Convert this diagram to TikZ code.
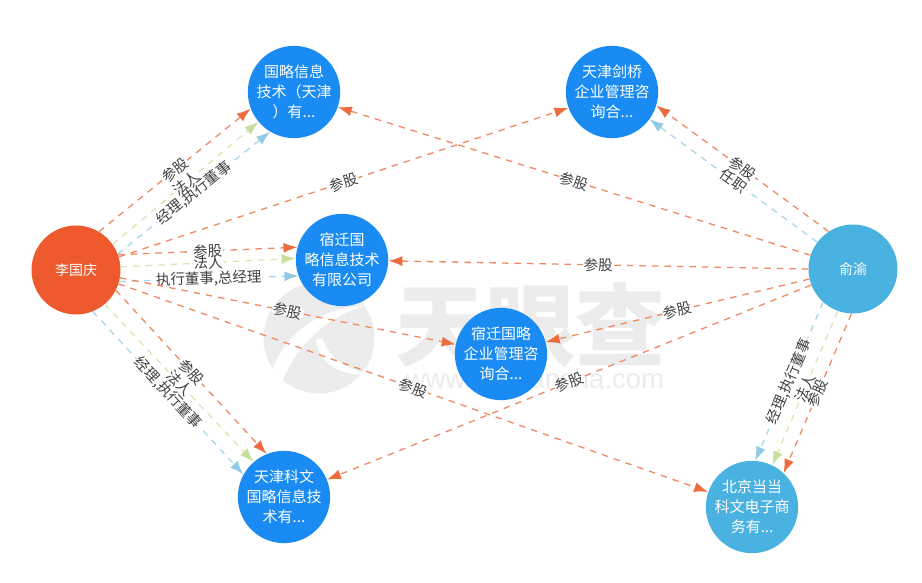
\documentclass[tikz,border=0pt]{standalone}
\usepackage{fontspec}
\usepackage{xcolor}
\usetikzlibrary{arrows.meta}
\setmainfont{Noto Sans CJK SC}
\newfontfamily\wwwfont{Liberation Sans}
\definecolor{lineOrange}{HTML}{EE8A62}
\definecolor{lineGreen}{HTML}{D6E9B4}
\definecolor{lineBlue}{HTML}{A9D7EA}
\definecolor{tipOrange}{HTML}{EC6C3E}
\definecolor{tipGreen}{HTML}{C6E09C}
\definecolor{tipBlue}{HTML}{90CBE6}
\definecolor{nodeRed}{HTML}{EE5A2E}
\definecolor{nodeBlue}{HTML}{1A8BF2}
\definecolor{nodeSky}{HTML}{4AB2E0}
\definecolor{markGray}{HTML}{ECECEC}
\tikzset{
  entity/.style={circle,minimum size=89pt,inner sep=0pt,align=center,text=white,
    font=\fontsize{15}{20}\selectfont},
  link/.style={dashed,dash pattern=on 6.5pt off 6pt,line width=1.3pt},
  orangelink/.style={link,draw=lineOrange,-{Latex[length=14pt,width=10pt,color=tipOrange]}},
  greenlink/.style={link,draw=lineGreen,-{Latex[length=14pt,width=10pt,color=tipGreen]}},
  bluelink/.style={link,draw=lineBlue,-{Latex[length=14pt,width=10pt,color=tipBlue]}},
  role/.style={midway,sloped,fill=white,inner xsep=1pt,inner ysep=-2.5pt,text=black!75,
    font=\fontsize{14.5}{15}\selectfont},
}
\begin{document}
\begin{tikzpicture}[x=1pt,y=-1pt]
\useasboundingbox (0,0) rectangle (922,583);
% watermark
\fill[markGray] (319,338) circle (55.5);
\fill[white] (272,370) .. controls (285,335) and (318,308) .. (364,306)
  .. controls (325,318) and (297,345) .. (282,382) -- cycle;
\fill[white] (316,340) .. controls (318,362) and (340,378) .. (372,374)
  .. controls (345,370) and (330,358) .. (322,338) -- cycle;
\node[text=markGray,font=\fontsize{90}{90}\bfseries] (markname) at (530,325) {天眼查};
\node[text=markGray,font=\fontsize{27.5}{27.5}\wwwfont] (markurl) at (535,381) {www.tianyancha.com};
% nodes
\node[entity,fill=nodeRed,font=\fontsize{14}{20}\selectfont] (liguoqing) at (76,270) {李国庆};
\node[entity,fill=nodeSky,font=\fontsize{14}{20}\selectfont] (yuyu) at (853,269) {俞渝};
\node[entity,fill=nodeBlue] (guolue) at (294,92) {国略信息\\技术（天津\\）有...};
\node[entity,fill=nodeBlue] (jianqiao) at (612,92) {天津剑桥\\企业管理咨\\询合...};
\node[entity,fill=nodeBlue] (suqiantech) at (342,260) {宿迁国\\略信息技术\\有限公司};
\node[entity,fill=nodeBlue] (suqianqiye) at (501,354) {宿迁国略\\企业管理咨\\询合...};
\node[entity,fill=nodeBlue] (kewen) at (284,497) {天津科文\\国略信息技\\术有...};
\node[entity,fill=nodeSky] (dangdang) at (752,507) {北京当当\\科文电子商\\务有...};
% lines from the left person
\draw[orangelink] (liguoqing.59) -- (guolue.201) node[role]{参股};
\draw[greenlink] (liguoqing.35) -- (guolue.220) node[role]{法人};
\draw[bluelink] (liguoqing.21) -- (guolue.239) node[role]{经理,执行董事};
\draw[orangelink] (liguoqing.17) -- (jianqiao.200) node[role]{参股};
\draw[orangelink] (liguoqing.20) -- (suqiantech.164) node[role]{参股};
\draw[greenlink] (liguoqing.4) -- (suqiantech.178) node[role]{法人};
\draw[bluelink] (liguoqing.-15) -- (suqiantech.200) node[role]{执行董事,总经理};
\draw[orangelink] (liguoqing.-10) -- (suqianqiye.168) node[role]{参股};
\draw[orangelink] (liguoqing.-18) -- (dangdang.161) node[role]{参股};
\draw[orangelink] (liguoqing.-27) -- (kewen.112) node[role]{参股};
\draw[greenlink] (liguoqing.-50) -- (kewen.131) node[role]{法人};
\draw[bluelink] (liguoqing.-68) -- (kewen.151) node[role]{经理,执行董事};
% lines from the right person
\draw[orangelink] (yuyu.162) -- (guolue.-19) node[role]{参股};
\draw[orangelink] (yuyu.123) -- (jianqiao.-17) node[role]{参股};
\draw[bluelink] (yuyu.143) -- (jianqiao.-36) node[role]{任职};
\draw[orangelink] (yuyu.180) -- (suqiantech.-1) node[role]{参股};
\draw[orangelink] (yuyu.193) -- (suqianqiye.15) node[role]{参股};
\draw[orangelink] (yuyu.201) -- (kewen.22) node[role]{参股};
\draw[bluelink] (yuyu.228) -- (dangdang.86) node[role]{经理,执行董事};
\draw[greenlink] (yuyu.250) -- (dangdang.64) node[role]{法人};
\draw[orangelink] (yuyu.268) -- (dangdang.47) node[role]{参股};
\end{tikzpicture}
\end{document}
